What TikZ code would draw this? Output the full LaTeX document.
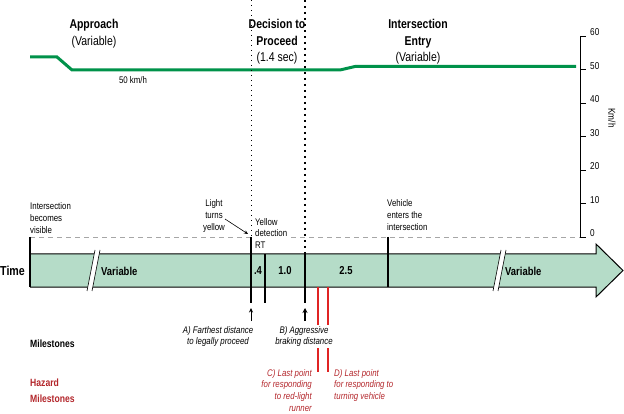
\documentclass[tikz,border=0pt]{standalone}
\usepackage{fontspec}
\setmainfont{Liberation Sans}[FakeStretch=0.82]
\usetikzlibrary{arrows.meta}
\usepackage{xcolor}
\definecolor{speedgreen}{HTML}{00924A}
\definecolor{barfill}{HTML}{B5DCC8}
\definecolor{hazline}{HTML}{E02424}
\definecolor{haztext}{HTML}{B3262B}
\tikzset{
  heading/.style={font=\fontsize{12.8}{16.5}\selectfont, align=center, inner sep=0pt, anchor=north},
  note/.style={font=\fontsize{9.6}{12.2}\selectfont, inner sep=0pt},
  barlabel/.style={font=\fontsize{11.5}{14}\selectfont\bfseries, inner sep=0pt},
  milestone/.style={font=\fontsize{9.6}{11.7}\selectfont\itshape, inner sep=0pt},
  ticklabel/.style={font=\fontsize{10}{12}\selectfont, inner sep=0pt, anchor=base west},
  marker/.style={line width=1.6pt},
}
\begin{document}
\begin{tikzpicture}[x=1pt,y=-1pt]
  \useasboundingbox (0,0) rectangle (624,414);
  % Speed axis
  \draw[line width=0.8pt] (580,36) -- (580,237);
  \foreach \v [evaluate=\v as \yy using {237-3.35*\v}] in {0,10,...,60} {
    \draw[line width=0.8pt] (580,\yy) -- (586,\yy);
    \node[ticklabel] (tick\v) at (590,\yy) {\v};
  }
  \node[note, font=\fontsize{10}{12}\selectfont, rotate=-90] (unit) at (612,118) {Km/h};
  % Zero line
  \draw[gray!70, line width=0.8pt, dash pattern=on 5pt off 4pt] (30,237) -- (580,237);
  % Speed profile
  \draw[speedgreen, line width=3pt] (30,57) -- (57,57) -- (72,70) -- (340,70)
    -- (355,66.5) -- (576,66.5);
  \node[note] (speed) at (133,80) {50 km/h};
  % Phase headings
  \node[heading] (approach) at (94,19.5) {\textbf{Approach}\\(Variable)};
  \node[heading] (decision) at (277,19.5) {\textbf{Decision to}\\\textbf{Proceed}\\(1.4 sec)};
  \node[heading] (entry) at (418,19.5) {\textbf{Intersection}\\\textbf{Entry}\\(Variable)};
  % Decision window
  \draw[line width=0.8pt, dash pattern=on 1.5pt off 3.5pt] (251,0) -- (251,237);
  \draw[line width=2pt, dash pattern=on 2.5pt off 3.5pt] (305,0) -- (305,254);
  % Event notes
  \node[note, align=left, anchor=north west] (visible) at (30,202) {Intersection\\becomes\\visible};
  \node[note, align=center, anchor=north] (light) at (214,199) {Light\\turns\\yellow};
  \coordinate (lightpt) at (248,234);
  \draw[-{Stealth[length=4pt,width=3.5pt]}, line width=0.6pt] (225,219) -- (lightpt);
  \node[note, font=\fontsize{9.6}{11.8}\selectfont, align=left, anchor=north west, fill=white, inner sep=1pt] (detect) at (254,217) {Yellow\\detection\\RT};
  \node[note, align=left, anchor=north west] (enters) at (387,199) {Vehicle\\enters the\\intersection};
  % Time bar
  \fill[barfill] (30,254) -- (596,254) -- (596,244) -- (623,270.5) -- (596,297)
    -- (596,287) -- (30,287) -- cycle;
  \draw[line width=1pt] (30,254) -- (596,254) -- (596,244) -- (623,270.5) -- (596,297)
    -- (596,287) -- (30,287);
  \draw[line width=1.6pt] (30,237) -- (30,287);
  % Breaks
  \foreach \bx in {87,493} {
    \fill[white] (\bx,291) -- (\bx+8,250) -- (\bx+13,250) -- (\bx+5,291) -- cycle;
    \draw[line width=0.6pt] (\bx,291) -- (\bx+8,250) (\bx+5,291) -- (\bx+13,250);
  }
  \node[barlabel, font=\fontsize{13}{15}\selectfont\bfseries, anchor=west] (time) at (0,271) {Time};
  \node[barlabel, anchor=west] (var1) at (101,271) {Variable};
  \node[barlabel, anchor=west] (var2) at (505,271) {Variable};
  \node[barlabel] (seg1) at (258,271) {.4};
  \node[barlabel] (seg2) at (285,271) {1.0};
  \node[barlabel] (seg3) at (346,271) {2.5};
  % Markers
  \draw[marker] (251,237) -- (251,303);
  \draw[line width=1.3pt] (265,254) -- (265,303);
  \draw[marker] (305,254) -- (305,303);
  \draw[marker] (388,237) -- (388,287);
  % Hazard markers
  \draw[hazline, line width=2pt] (318,287) -- (318,372);
  \draw[hazline, line width=2pt] (328,287) -- (328,372);
  % Milestones
  \coordinate (mA) at (251,308);
  \coordinate (mB) at (305,308);
  \draw[-{Stealth[length=4.5pt,width=4pt]}, line width=0.6pt] (251,321) -- (mA);
  \draw[-{Stealth[length=5pt,width=5pt]}, line width=1.4pt] (305,321) -- (mB);
  \node[milestone, align=center, anchor=north] (farthest) at (218,326) {A) Farthest distance\\to legally proceed};
  \node[milestone, align=center, anchor=north, fill=white, inner xsep=0pt, inner ysep=1.5pt] (braking) at (304,324.5) {B) Aggressive\\braking distance};
  \node[barlabel, font=\fontsize{10.5}{13}\selectfont\bfseries, anchor=west] (miles) at (30,344) {Milestones};
  \node[barlabel, font=\fontsize{10.5}{15.5}\selectfont\bfseries, text=haztext, align=left, anchor=north west] (hazard) at (30,379) {Hazard\\Milestones};
  \node[milestone, text=haztext, align=right, anchor=north east] (redlight) at (312,369) {C) Last point\\for responding\\to red-light\\runner};
  \node[milestone, text=haztext, align=left, anchor=north west] (turning) at (334,369) {D) Last point\\for responding to\\turning vehicle};
\end{tikzpicture}
\end{document}
